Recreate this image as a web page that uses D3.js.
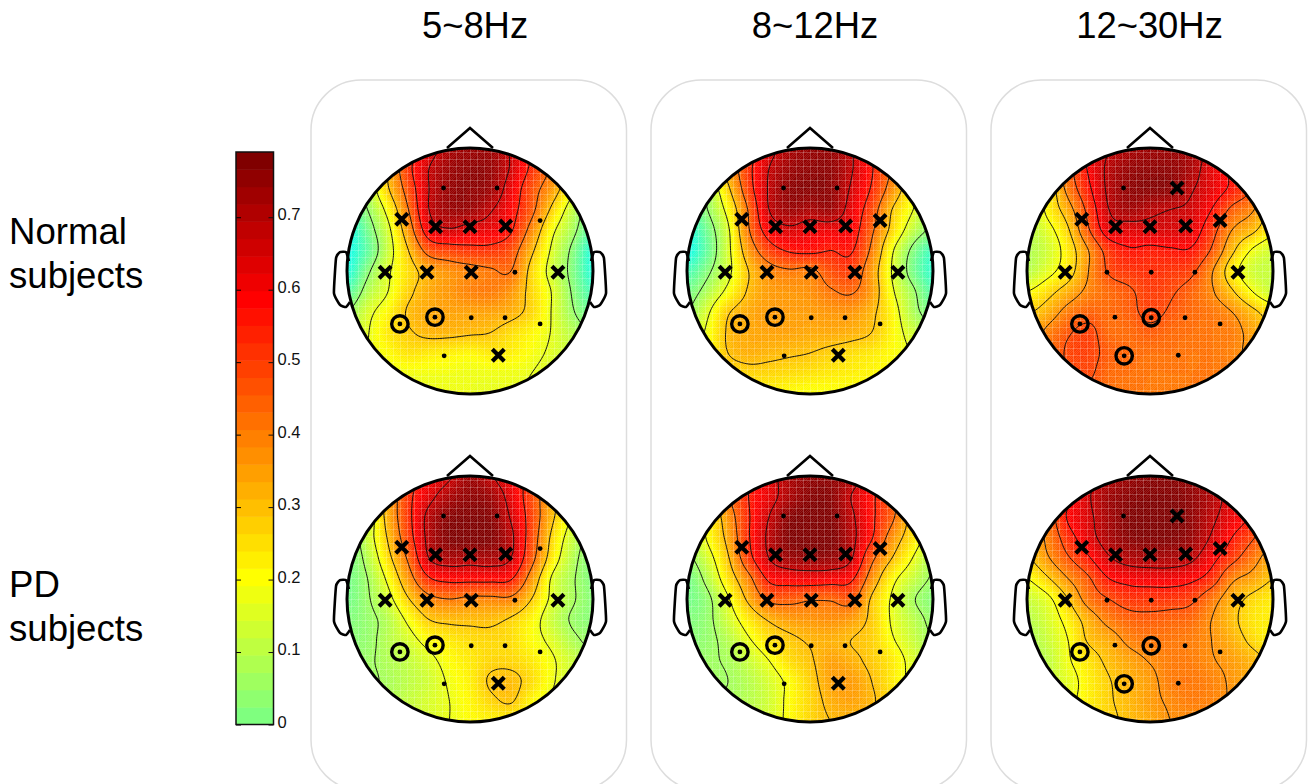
<!DOCTYPE html>
<html>
<head>
<meta charset="utf-8">
<script src="https://cdn.jsdelivr.net/npm/d3@7"></script>
<style>
  html, body { margin: 0; padding: 0; background: #fff; }
  svg { display: block; font-family: "Liberation Sans", Arial, sans-serif; }
</style>
</head>
<body>
<svg width="1309" height="784"></svg>
<script>
const bands = ["5~8Hz", "8~12Hz", "12~30Hz"]
const groups = [["Normal", "subjects"], ["PD", "subjects"]]
const barTicks = [0, 0.1, 0.2, 0.3, 0.4, 0.5, 0.6, 0.7]

const sensorNames = ["Fp1","Fp2","F7","F3","Fz","F4","F8","T3","C3","Cz","C4","T4","T5","P3","Pz","P4","T6","O1","O2"]
const sensorX = [-.215,.22,-.555,-.28,0,.29,.57,-.69,-.35,.01,.365,.715,-.57,-.285,.01,.285,.57,-.21,.23]
const sensorY = [-.675,-.675,-.42,-.36,-.36,-.365,-.41,.01,.01,.01,.01,.01,.43,.375,.38,.38,.43,.69,.685]

// significance markers, same for both rows of a band
const crossed = [
  ["F7","F3","Fz","F4","T3","C3","Cz","T4","O2"],
  ["F7","F3","Fz","F4","F8","T3","C3","Cz","C4","T4","O2"],
  ["Fp2","F7","F3","Fz","F4","F8","T3","T4"]
]
const ringed = [["T5","P3"], ["T5","P3"], ["T5","Pz","O1"]]

// contour line levels per panel
const levels = [
  [.67,.55,.43,.30,.175,.05],
  [.67,.55,.43,.30,.175,.05],
  [.68,.58,.48,.38,.29,.20],
  [.67,.55,.42,.29,.18,.07],
  [.67,.55,.43,.31,.19,.07],
  [.67,.57,.48,.38,.29,.20]
]

// scalp values, 13 x 13 over the head square
const normalTheta = [
  [.2,.3,.4,.5,.62,.72,.74,.74,.66,.55,.4,.3,.2],
  [.05,.15,.32,.52,.67,.74,.76,.75,.66,.53,.41,.28,.15],
  [-.05,.1,.29,.48,.67,.75,.76,.74,.62,.48,.36,.2,.05],
  [-.05,.05,.21,.43,.67,.74,.74,.68,.59,.46,.28,.12,0],
  [-.15,0,.15,.37,.61,.66,.63,.62,.56,.39,.2,.08,-.05],
  [-.15,-.03,.13,.3,.47,.5,.52,.52,.48,.32,.16,.03,-.12],
  [-.13,.03,.16,.26,.34,.38,.4,.42,.43,.27,.14,.02,-.12],
  [-.05,.09,.175,.28,.34,.37,.4,.41,.37,.27,.17,.04,-.07],
  [.05,.15,.22,.31,.34,.35,.35,.35,.33,.27,.17,.06,-.02],
  [.1,.17,.24,.29,.32,.32,.31,.3,.26,.22,.17,.1,.05],
  [.12,.17,.21,.25,.24,.23,.22,.24,.23,.2,.16,.12,.1],
  [.12,.15,.18,.19,.19,.19,.185,.185,.185,.175,.14,.11,.09],
  [.12,.15,.18,.185,.185,.185,.18,.18,.18,.17,.13,.1,.09]
]
const normalAlpha = [
  [.2,.3,.4,.5,.63,.72,.75,.75,.68,.55,.42,.3,.2],
  [.1,.22,.35,.52,.67,.74,.76,.76,.68,.56,.42,.3,.15],
  [0,.08,.28,.5,.68,.76,.77,.76,.66,.54,.38,.22,.1],
  [-.05,.05,.21,.44,.67,.74,.72,.74,.63,.49,.3,.18,.05],
  [-.13,0,.16,.42,.6,.65,.62,.62,.6,.45,.27,.12,.03],
  [-.15,-.02,.15,.36,.5,.56,.57,.55,.56,.41,.19,.03,-.08],
  [-.07,.03,.15,.3,.39,.42,.41,.48,.5,.36,.17,.01,-.1],
  [0,.09,.2,.31,.36,.37,.38,.42,.44,.36,.19,.07,-.05],
  [.05,.16,.29,.34,.36,.36,.36,.37,.37,.32,.22,.09,0],
  [.12,.19,.31,.34,.35,.35,.34,.34,.33,.3,.22,.14,.08],
  [.15,.2,.3,.33,.32,.31,.3,.28,.26,.24,.21,.17,.12],
  [.2,.22,.25,.27,.27,.26,.25,.24,.23,.22,.2,.18,.15],
  [.2,.2,.21,.22,.22,.21,.2,.2,.2,.2,.2,.18,.15]
]
const normalBeta = [
  [.3,.4,.5,.6,.68,.72,.74,.74,.72,.66,.55,.45,.35],
  [.2,.3,.45,.59,.7,.75,.76,.76,.72,.63,.56,.45,.35],
  [.1,.22,.41,.56,.7,.76,.77,.76,.69,.63,.56,.47,.33],
  [.1,.22,.34,.51,.68,.73,.7,.68,.66,.58,.46,.39,.26],
  [.1,.17,.28,.47,.63,.64,.65,.65,.63,.52,.38,.31,.22],
  [.09,.14,.24,.38,.52,.57,.56,.57,.57,.47,.31,.19,.14],
  [.1,.17,.25,.38,.49,.52,.53,.52,.5,.39,.24,.14,.12],
  [.2,.26,.33,.4,.44,.47,.51,.49,.45,.39,.3,.2,.13],
  [.28,.33,.41,.45,.44,.46,.5,.47,.44,.42,.38,.31,.25],
  [.32,.4,.47,.5,.44,.44,.46,.44,.43,.42,.41,.35,.3],
  [.35,.42,.49,.5,.46,.44,.43,.43,.42,.42,.4,.36,.33],
  [.38,.44,.47,.49,.44,.43,.42,.42,.42,.42,.41,.38,.35],
  [.4,.42,.44,.46,.43,.42,.42,.42,.42,.42,.41,.38,.35]
]
const pdTheta = [
  [.2,.3,.4,.5,.6,.66,.74,.68,.6,.52,.4,.3,.2],
  [.1,.2,.34,.52,.64,.72,.76,.74,.63,.49,.33,.22,.1],
  [0,.12,.33,.52,.7,.77,.78,.77,.66,.5,.31,.17,.05],
  [0,.13,.3,.5,.7,.78,.79,.78,.69,.49,.27,.13,.03],
  [0,.1,.26,.44,.67,.72,.71,.72,.67,.46,.24,.1,.02],
  [0,.07,.2,.37,.54,.58,.58,.58,.56,.37,.17,.08,.02],
  [0,.06,.15,.285,.39,.42,.4,.4,.4,.29,.16,.08,.03],
  [.02,.05,.1,.2,.29,.31,.31,.31,.28,.22,.13,.06,.03],
  [.03,.05,.1,.15,.21,.24,.26,.27,.26,.21,.16,.09,.05],
  [.04,.06,.09,.12,.16,.21,.24,.27,.27,.24,.19,.13,.08],
  [.05,.06,.08,.11,.14,.19,.23,.3,.31,.26,.19,.13,.1],
  [.06,.07,.09,.12,.15,.18,.22,.27,.295,.22,.17,.14,.12],
  [.07,.08,.1,.12,.15,.18,.21,.22,.22,.2,.18,.15,.13]
]
const pdAlpha = [
  [.25,.35,.45,.55,.63,.72,.76,.76,.72,.6,.45,.35,.25],
  [.13,.25,.42,.55,.63,.72,.77,.77,.67,.57,.46,.3,.17],
  [.07,.2,.37,.54,.67,.77,.79,.78,.69,.57,.45,.27,.13],
  [.1,.2,.34,.54,.69,.78,.79,.79,.7,.56,.38,.25,.14],
  [.05,.15,.3,.51,.67,.74,.75,.75,.68,.46,.31,.19,.08],
  [0,.1,.25,.4,.57,.6,.61,.6,.57,.38,.22,.13,.06],
  [0,.05,.18,.33,.45,.46,.44,.44,.46,.3,.18,.08,.03],
  [.02,.05,.14,.24,.32,.36,.37,.38,.36,.29,.18,.11,.05],
  [.03,.05,.1,.18,.25,.29,.32,.33,.31,.28,.2,.13,.07],
  [.04,.06,.08,.13,.19,.26,.3,.35,.33,.29,.24,.16,.1],
  [.05,.06,.07,.1,.15,.21,.28,.35,.36,.31,.24,.17,.12],
  [.06,.07,.08,.1,.14,.21,.27,.33,.35,.32,.26,.2,.15],
  [.07,.08,.1,.12,.15,.21,.27,.31,.32,.3,.25,.2,.15]
]
const pdBeta = [
  [.5,.55,.6,.65,.7,.75,.77,.77,.75,.7,.65,.55,.5],
  [.35,.45,.56,.66,.74,.77,.78,.78,.76,.71,.63,.53,.45],
  [.3,.42,.58,.65,.73,.78,.79,.79,.76,.69,.62,.55,.42],
  [.3,.4,.53,.63,.72,.77,.78,.78,.75,.66,.57,.49,.4],
  [.28,.37,.47,.56,.66,.71,.72,.72,.69,.6,.51,.42,.33],
  [.2,.28,.38,.47,.57,.6,.61,.61,.59,.53,.4,.35,.29],
  [.13,.18,.29,.42,.48,.52,.52,.52,.5,.42,.33,.27,.24],
  [.1,.15,.23,.33,.41,.45,.46,.45,.44,.38,.31,.25,.23],
  [.08,.13,.2,.3,.34,.4,.42,.42,.41,.38,.33,.27,.22],
  [.07,.11,.19,.25,.31,.35,.385,.41,.41,.385,.36,.32,.28],
  [.08,.12,.17,.23,.285,.33,.36,.41,.42,.4,.37,.33,.3],
  [.1,.13,.18,.23,.28,.32,.36,.39,.41,.4,.37,.33,.3],
  [.12,.15,.19,.23,.27,.31,.34,.38,.38,.38,.36,.33,.3]
]
const panelValues = [normalTheta, normalAlpha, normalBeta, pdTheta, pdAlpha, pdBeta]

// head outline in head radii
const noseX = [-.187, 0, .187]
const noseY = [-1, -1.163, -1]
const earX = [-.984, -1.008, -1.057, -1.089, -1.106, -1.057, -1.008, -.976]
const earY = [-.081, -.154, -.154, -.106, .179, .276, .293, .252]

const centerX = [470, 810, 1150]
const centerY = [271, 599]
const headR = 123

const svg = d3.select("svg")

// the colour map is the upper part of jet
const barMax = 0.79
const barRows = d3.range(32, 65)
const rowHeight = barMax / barRows.length
const rowColor = d3.scaleLinear()
  .domain([24, 32, 40, 56, 64])
  .range(["#00ffff", "#7fff7f", "#ffff00", "#ff0000", "#800000"])
  .clamp(true)
const valueColor = v => rowColor(v / rowHeight + 31.5)

const defs = svg.append("defs")

// the pale mesh that lies over the interpolated surface
const mesh = defs.append("pattern")
  .attr("id", "mesh")
  .attr("patternUnits", "userSpaceOnUse")
  .attr("width", 7)
  .attr("height", 7)
mesh.append("path").attr("d", "M0,0.5H7M0.5,0V7")
  .attr("stroke", "#fff").attr("stroke-opacity", 0.24).attr("stroke-width", 1)
mesh.append("path").attr("d", "M1,5L5,1M1,7L7,1M3,7L7,3")
  .attr("stroke", "#fff").attr("stroke-opacity", 0.12).attr("stroke-width", 1)

// panel frames
centerX.forEach(cx => {
  svg.append("rect")
    .attr("x", cx - 159)
    .attr("y", 80)
    .attr("width", 315.5)
    .attr("height", 710)
    .attr("rx", 50)
    .attr("fill", "none")
    .attr("stroke", "#dddddd")
    .attr("stroke-width", 1.5)
})

// band titles and row labels
svg.selectAll("text.band")
  .data(bands)
  .enter()
  .append("text")
  .attr("class", "band")
  .attr("x", (d, i) => [475, 815, 1149.5][i])
  .attr("y", 38)
  .attr("text-anchor", "middle")
  .attr("font-size", 36.4)
  .text(d => d)

groups.forEach((lines, r) => {
  lines.forEach((line, k) => {
    svg.append("text")
      .attr("x", 9)
      .attr("y", [244, 597][r] + k * 44)
      .attr("font-size", 36.6)
      .text(line)
  })
})

// colour bar
const barY = d3.scaleLinear().domain([0, barMax]).range([724.5, 152])
const barG = svg.append("g")
barG.selectAll("rect")
  .data(barRows)
  .enter()
  .append("rect")
  .attr("x", 236)
  .attr("width", 37.5)
  .attr("y", (d, i) => barY((i + 1) * rowHeight))
  .attr("height", (d, i) => barY(i * rowHeight) - barY((i + 1) * rowHeight) + 0.5)
  .attr("fill", d => rowColor(d))

const barAxis = svg.append("g")
  .attr("transform", "translate(273.5,0)")
  .call(d3.axisRight(barY).tickValues(barTicks).tickSize(-5).tickFormat(d3.format("~g")))
barAxis.selectAll("text").attr("x", 4).attr("y", -2.7).attr("font-size", 16.5).attr("font-family", "Liberation Sans").attr("fill", "#111")
barAxis.selectAll("line").attr("stroke", "#111")
barAxis.select(".domain").remove()
svg.append("g")
  .attr("transform", "translate(236,0)")
  .call(d3.axisLeft(barY).tickValues(barTicks).tickSize(-5).tickFormat(""))
  .call(g => g.select(".domain").remove())
svg.append("rect")
  .attr("x", 236).attr("y", 152).attr("width", 37.5).attr("height", 572.5)
  .attr("fill", "none").attr("stroke", "#111").attr("stroke-width", 1.5)

// smooth resample of a coarse value grid so the contours do not look faceted
const upscale = 12
function catmull(a, b, c, d, t) {
  return 0.5 * (2 * b + (c - a) * t + (2 * a - 5 * b + 4 * c - d) * t * t + (3 * b - a - 3 * c + d) * t * t * t)
}
function resample(grid) {
  const n = grid.length
  const size = (n - 1) * upscale + 1
  const cell = (r, c) => grid[Math.max(0, Math.min(n - 1, r))][Math.max(0, Math.min(n - 1, c))]
  const out = new Float64Array(size * size)
  for (let j = 0; j < size; j++) {
    const r = Math.min(Math.floor(j / upscale), n - 2)
    const tr = j / upscale - r
    for (let i = 0; i < size; i++) {
      const c = Math.min(Math.floor(i / upscale), n - 2)
      const tc = i / upscale - c
      const rows = [-1, 0, 1, 2].map(k => catmull(cell(r + k, c - 1), cell(r + k, c), cell(r + k, c + 1), cell(r + k, c + 2), tc))
      out[j * size + i] = catmull(rows[0], rows[1], rows[2], rows[3], tr)
    }
  }
  return { size, out }
}

const head = d3.scaleLinear().domain([-1, 1]).range([-headR, headR])
const fillThresholds = d3.range(-0.3, 0.85, 0.01)

panelValues.forEach((grid, p) => {
  const col = p % 3
  const row = Math.floor(p / 3)
  const g = svg.append("g")
    .attr("transform", `translate(${centerX[col]},${centerY[row]})`)

  const clipId = "clip" + p
  defs.append("clipPath").attr("id", clipId)
    .append("circle").attr("r", headR)

  const { size, out } = resample(grid)
  const k = (2 * headR) / (size - 1)
  const path = d3.geoPath(d3.geoIdentity()
    .scale(k)
    .translate([-headR - 0.5 * k, -headR - 0.5 * k]))
  const contours = d3.contours().size([size, size])

  const surface = g.append("g").attr("clip-path", `url(#${clipId})`)
  surface.append("g")
    .selectAll("path")
    .data(contours.thresholds(fillThresholds)(out))
    .enter()
    .append("path")
    .attr("d", path)
    .attr("fill", d => valueColor(d.value))

  surface.append("circle").attr("r", headR).attr("fill", "url(#mesh)")

  surface.append("g")
    .selectAll("path")
    .data(contours.thresholds(levels[p])(out))
    .enter()
    .append("path")
    .attr("d", path)
    .attr("fill", "none")
    .attr("stroke", "#111")
    .attr("stroke-width", 1)

  // head, nose, ears
  const outline = d3.line().x(d => head(d[0])).y(d => head(d[1]))
  g.append("circle").attr("r", headR)
    .attr("fill", "none").attr("stroke", "#000").attr("stroke-width", 3)
  g.append("path")
    .attr("d", outline(d3.zip(noseX, noseY)))
    .attr("fill", "none").attr("stroke", "#000").attr("stroke-width", 2.6)
  const earLine = outline.curve(d3.curveCardinal.tension(0.6))
  g.append("path")
    .attr("d", earLine(d3.zip(earX, earY)))
    .attr("fill", "none").attr("stroke", "#000").attr("stroke-width", 2.6)
  g.append("path")
    .attr("d", earLine(d3.zip(earX.map(d => -d), earY)))
    .attr("fill", "none").attr("stroke", "#000").attr("stroke-width", 2.6)

  // electrodes
  sensorNames.forEach((name, s) => {
    const x = head(sensorX[s])
    const y = head(sensorY[s])
    if (crossed[col].includes(name)) {
      g.append("path")
        .attr("d", `M${x - 6},${y - 6}L${x + 6},${y + 6}M${x - 6},${y + 6}L${x + 6},${y - 6}`)
        .attr("stroke", "#000").attr("stroke-width", 4.2)
    } else {
      g.append("circle").attr("cx", x).attr("cy", y).attr("r", 2.4).attr("fill", "#000")
      if (ringed[col].includes(name)) {
        g.append("circle").attr("cx", x).attr("cy", y).attr("r", 8.2)
          .attr("fill", "none").attr("stroke", "#000").attr("stroke-width", 3.4)
      }
    }
  })
})
</script>
</body>
</html>
